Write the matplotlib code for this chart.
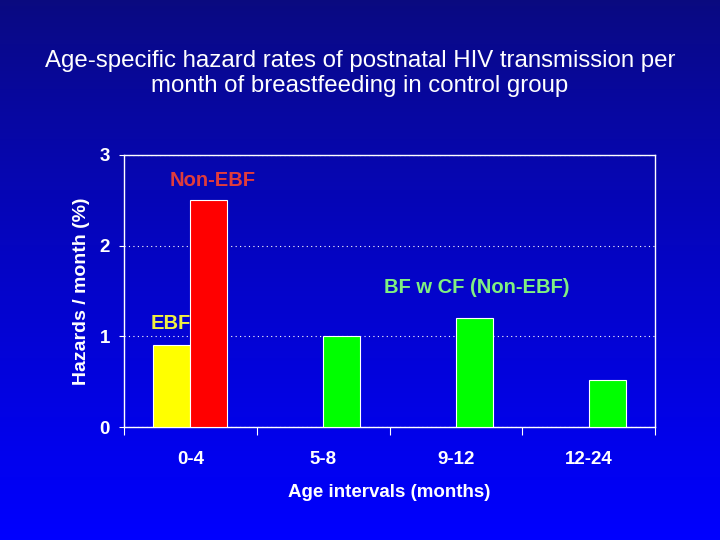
import numpy as np
import matplotlib.pyplot as plt

plt.rcParams['font.family'] = ['Liberation Sans', 'DejaVu Sans']

groups = ['0-4', '5-8', '9-12', '12-24']
ebf = [0.9, np.nan, np.nan, np.nan]
non_ebf = [2.5, 1.0, 1.2, 0.52]
non_ebf_colors = ['#ff0000', '#00ff00', '#00ff00', '#00ff00']

fig = plt.figure(figsize=(7.2, 5.4), dpi=100)

# background gradient, dark navy at the top to pure blue at the bottom
bg = fig.add_axes([0, 0, 1, 1], zorder=-1)
grad = np.linspace(0, 1, 256).reshape(-1, 1)
top = np.array([0.04, 0.04, 0.5])
bot = np.array([0.0, 0.0, 1.0])
img = top + (bot - top) * grad[:, :, None] ** 0.85
bg.imshow(img, aspect='auto', extent=[0, 1, 0, 1])
bg.axis('off')

ax = fig.add_axes([0.172, 0.209, 0.738, 0.504])
ax.set_facecolor('none')

x = np.arange(len(groups)) + 0.5
w = 0.28
ax.bar(x - w / 2, ebf, w, color='#ffff00', edgecolor='white', linewidth=0.8, zorder=3)
ax.bar(x + w / 2, non_ebf, w, color=non_ebf_colors, edgecolor='white', linewidth=0.8, zorder=3)

ax.set_xlim(0, 4)
ax.set_ylim(0, 3)
ax.set_yticks([0, 1, 2, 3])
ax.set_xticks([0, 1, 2, 3, 4])
ax.set_xticklabels([])
ax.set_xticks(x, minor=True)
ax.set_xticklabels(groups, minor=True)
ax.tick_params(axis='x', which='minor', length=0, pad=17, labelsize=13.5, labelcolor='white')
ax.tick_params(axis='x', which='major', length=6, color='white', direction='out')
ax.tick_params(axis='y', length=3.5, color='white', labelcolor='white', labelsize=13.5, pad=6.5)
for lab in ax.get_xticklabels(minor=True) + ax.get_yticklabels():
    lab.set_fontweight('bold')
for s in ax.spines.values():
    s.set_color('white')
    s.set_linewidth(1)

ax.yaxis.grid(True, color='white', linestyle=(0, (1, 3)), linewidth=0.8)

ax.set_xlabel('Age intervals (months)', color='white', fontsize=13.5, fontweight='bold', labelpad=12)
ax.set_ylabel('Hazards / month (%)', color='white', fontsize=14, fontweight='bold', labelpad=7)

ax.text(0.67, 2.72, 'Non-EBF', color='#e03c3c', fontsize=14.5, fontweight='bold', ha='center', va='center')
ax.text(0.354, 1.147, 'EBF', color='#f0f040', fontsize=14.5, fontweight='bold', ha='center', va='center')
ax.text(2.66, 1.544, 'BF w CF (Non-EBF)', color='#80f080', fontsize=14.5, fontweight='bold', ha='center', va='center')

fig.text(0.5, 0.864, 'Age-specific hazard rates of postnatal HIV transmission per\nmonth of breastfeeding in control group',
         color='white', fontsize=17.3, ha='center', va='center', linespacing=1.2)

fig.savefig('out.png', dpi=100)
